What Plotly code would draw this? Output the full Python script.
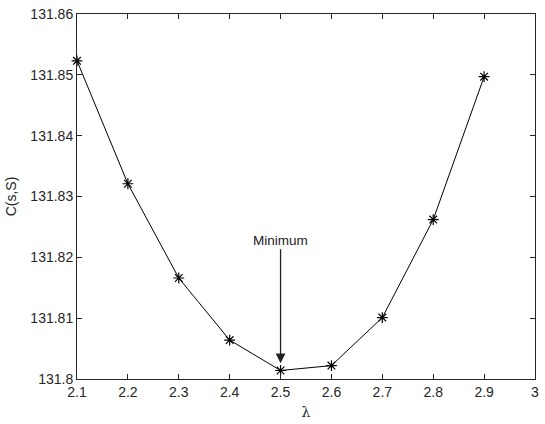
import plotly.graph_objects as go

lam = [2.1, 2.2, 2.3, 2.4, 2.5, 2.6, 2.7, 2.8, 2.9]
cost = [131.8523, 131.8321, 131.8166, 131.8064, 131.8014, 131.8022, 131.8101, 131.8262, 131.8497]
xticks = [2.1, 2.2, 2.3, 2.4, 2.5, 2.6, 2.7, 2.8, 2.9, 3.0]
xticklabels = ["2.1", "2.2", "2.3", "2.4", "2.5", "2.6", "2.7", "2.8", "2.9", "3"]
yticks = [131.80, 131.81, 131.82, 131.83, 131.84, 131.85, 131.86]
yticklabels = ["131.8", "131.81", "131.82", "131.83", "131.84", "131.85", "131.86"]
min_x, min_tip, min_text_y = 2.5, 131.8026, 131.8228

axis_color = "#262626"
font = dict(family="Liberation Sans, Arial, Helvetica, sans-serif", size=14, color=axis_color)

fig = go.Figure()
fig.add_trace(go.Scatter(
    x=lam, y=cost, mode="lines+markers",
    line=dict(color="black", width=1),
    marker=dict(symbol="asterisk-open", size=9, color="black",
                line=dict(color="black", width=1.2)),
    showlegend=False, cliponaxis=False,
))

fig.add_annotation(
    x=min_x, y=min_tip, xref="x", yref="y",
    ax=min_x, ay=min_text_y, axref="x", ayref="y",
    text="Minimum", showarrow=True,
    arrowhead=2, arrowsize=1.5, arrowwidth=1.3, arrowcolor="#222222",
    font=dict(family="Liberation Sans, Arial, sans-serif", size=13.5, color="#222222"),
)

fig.update_xaxes(
    range=[2.1, 3.0], tickvals=xticks, ticktext=xticklabels,
    ticks="inside", ticklen=5, tickcolor=axis_color, tickwidth=1,
    showline=True, linecolor=axis_color, linewidth=1, mirror="ticks",
    showgrid=False, zeroline=False,
    title=dict(text="λ", font=dict(family="DejaVu Serif, serif", size=14, color=axis_color), standoff=8),
    tickfont=font,
)
fig.update_yaxes(
    range=[131.80, 131.86], tickvals=yticks, ticktext=yticklabels,
    ticks="inside", ticklen=5, tickcolor=axis_color, tickwidth=1,
    showline=True, linecolor=axis_color, linewidth=1, mirror="ticks",
    showgrid=False, zeroline=False,
    title=dict(text="C(s,S)", font=font, standoff=10),
    tickfont=font,
)

fig.update_layout(
    width=545, height=424,
    margin=dict(l=77, r=6, t=14, b=44),
    plot_bgcolor="white", paper_bgcolor="white",
    font=font,
)

fig.write_html("out.html")
